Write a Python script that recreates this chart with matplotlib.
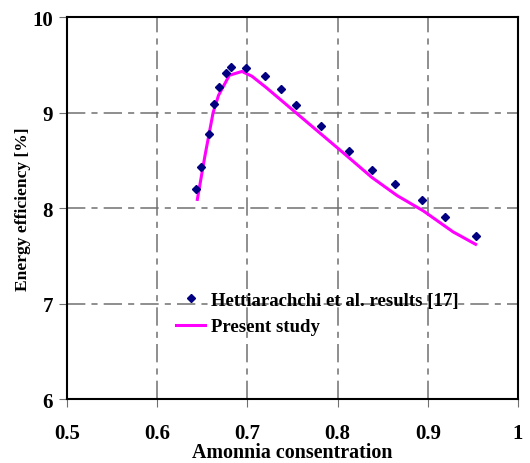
import matplotlib.pyplot as plt

# experimental points (Hettiarachchi et al.)
exp_x = [0.643, 0.649, 0.657, 0.663, 0.669, 0.676, 0.682, 0.698, 0.719, 0.737,
         0.754, 0.782, 0.813, 0.838, 0.864, 0.893, 0.919, 0.953]
exp_y = [8.20, 8.43, 8.78, 9.09, 9.27, 9.41, 9.48, 9.47, 9.38, 9.25,
         9.08, 8.86, 8.60, 8.40, 8.25, 8.08, 7.91, 7.71]

# present study curve
sim_x = [0.6445, 0.653, 0.662, 0.668, 0.680, 0.694, 0.705, 0.721, 0.751,
         0.781, 0.806, 0.838, 0.866, 0.895, 0.928, 0.953]
sim_y = [8.09, 8.55, 9.00, 9.18, 9.39, 9.43, 9.38, 9.26, 9.02,
         8.78, 8.58, 8.32, 8.13, 7.97, 7.75, 7.62]

xticks = [0.5, 0.6, 0.7, 0.8, 0.9, 1.0]
xticklabels = ['0.5', '0.6', '0.7', '0.8', '0.9', '1']
yticks = [6, 7, 8, 9, 10]

plt.rcParams['font.family'] = ['Liberation Serif', 'DejaVu Serif']
plt.rcParams['font.weight'] = 'bold'

fig = plt.figure(figsize=(5.3, 4.64), dpi=100)
ax = fig.add_axes([0.1264, 0.1379, 0.851, 0.8233])

ax.plot(exp_x, exp_y, linestyle='none', marker='D', markersize=4.5,
        color='#000080', label='Hettiarachchi et al. results [17]', zorder=3)
ax.plot(sim_x, sim_y, color='#FF00FF', linewidth=2.2, label='Present study', zorder=2)

ax.set_xlim(0.5, 1.0)
ax.set_ylim(6, 10)
ax.set_xticks(xticks)
ax.set_xticklabels(xticklabels)
ax.set_yticks(yticks)

ax.grid(True, color='#707070', linewidth=1.1, linestyle=(0, (12, 4, 4, 4)))
ax.tick_params(direction='out', length=6, color='#707070', labelsize=15)
ax.tick_params(axis='x', pad=11)
ax.tick_params(axis='y', pad=4)
for lbl in ax.get_xticklabels() + ax.get_yticklabels():
    lbl.set_fontweight('bold')

for s in ax.spines.values():
    s.set_linewidth(1.5)
    s.set_color('black')

ax.set_xlabel('Amonnia consentration', fontsize=14.4, fontweight='bold')
ax.set_ylabel('Energy efficiency [%]', fontsize=12.6, fontweight='bold')
ax.xaxis.set_label_coords(0.5, -0.112)
ax.yaxis.set_label_coords(-0.08, 0.5)

leg = ax.legend(loc='upper left', bbox_to_anchor=(0.205, 0.325), frameon=False,
                prop={'size': 13.5, 'weight': 'bold'}, handlelength=1.55,
                handletextpad=0.3, labelspacing=0.5)

plt.savefig('out.png', dpi=100)
